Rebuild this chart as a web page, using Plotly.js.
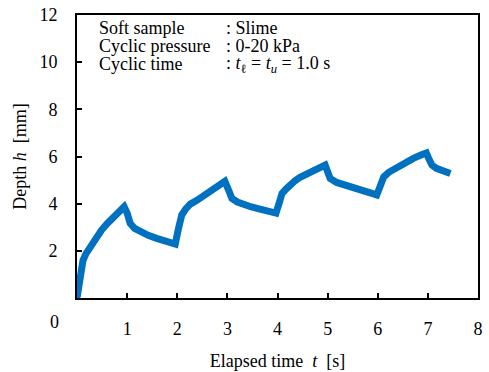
<!DOCTYPE html>
<html>
<head>
<meta charset="utf-8">
<script src="https://cdn.plot.ly/plotly-3.0.1.min.js"></script>
<style>html,body{margin:0;padding:0;background:#fff}#chart{width:489px;height:372px}</style>
</head>
<body>
<div id="chart"></div>
<script>
const timeS = [0, 0.04, 0.08, 0.12, 0.18, 0.26, 0.37, 0.49, 0.6, 0.72, 0.85, 0.94,
  1.0, 1.06, 1.15, 1.26, 1.42, 1.59, 1.78, 1.96,
  2.02, 2.09, 2.17, 2.26, 2.4, 2.55, 2.73, 2.9, 2.95,
  3.02, 3.09, 3.2, 3.32, 3.48, 3.65, 3.82, 3.97,
  4.03, 4.09, 4.17, 4.25, 4.35, 4.45, 4.6, 4.78, 4.95,
  5.0, 5.05, 5.18, 5.32, 5.48, 5.65, 5.82, 5.98,
  6.05, 6.12, 6.22, 6.38, 6.55, 6.71, 6.85, 6.97,
  7.02, 7.08, 7.17, 7.3, 7.45];
const depthMm = [0, 0.7, 1.3, 1.6, 1.88, 2.15, 2.52, 2.88, 3.15, 3.4, 3.65, 3.87,
  3.6, 3.17, 2.95, 2.81, 2.66, 2.53, 2.4, 2.29,
  2.9, 3.52, 3.78, 3.98, 4.15, 4.36, 4.62, 4.88, 4.95,
  4.6, 4.22, 4.07, 3.96, 3.86, 3.77, 3.68, 3.6,
  4.0, 4.43, 4.62, 4.8, 4.97, 5.12, 5.3, 5.48, 5.64,
  5.35, 5.07, 4.9, 4.8, 4.69, 4.58, 4.47, 4.37,
  4.75, 5.14, 5.33, 5.55, 5.75, 5.92, 6.05, 6.15,
  5.9, 5.64, 5.5, 5.38, 5.28];
const xTicks = [1, 2, 3, 4, 5, 6, 7, 8];
const yTicks = [2, 4, 6, 8, 10, 12];
const infoLabels = ["Soft sample", "Cyclic pressure", "Cyclic time"];
const infoValues = [": Slime", ": 0-20 kPa", ": <i>t</i><sub>ℓ</sub> = <i>t</i><sub><i>u</i></sub> = 1.0 s"];

const mkFont = (s) => ({family: '"Liberation Serif", "Times New Roman", Times, serif', size: s || 18, color: "#000"});
const W = 489, H = 372, L = 77, R = 11, T = 15, B = 74;
const pw = W - L - R, ph = H - T - B;
const px = x => (x - L) / pw;
const py = y => (H - B - y) / ph;

const ann = [];
const rowsY = [28, 46, 64];
infoLabels.forEach((t, i) => ann.push({xref: "paper", yref: "paper", x: px(97), y: py(rowsY[i]), xanchor: "left", yanchor: "middle", text: t, showarrow: false, font: mkFont()}));
infoValues.forEach((t, i) => ann.push({xref: "paper", yref: "paper", x: px(224), y: py(rowsY[i]), xanchor: "left", yanchor: "middle", text: t, showarrow: false, font: mkFont()}));
ann.push({xref: "paper", yref: "paper", x: px(61), y: py(322), xanchor: "right", yanchor: "middle", text: "0", showarrow: false, font: mkFont()});

const data = [{x: timeS, y: depthMm, type: "scatter", mode: "lines", line: {color: "#0070C0", width: 7, shape: "linear"}}];
const layout = {
  width: W, height: H,
  margin: {l: L, r: R, t: T, b: B, pad: 0},
  paper_bgcolor: "#fff", plot_bgcolor: "#fff",
  showlegend: false,
  font: mkFont(),
  xaxis: {range: [0, 8], tickvals: xTicks, ticktext: xTicks.map(String), ticks: "inside", ticklen: 5, tickwidth: 2, tickcolor: "#000",
    showline: true, linewidth: 2, linecolor: "#000", mirror: true, showgrid: false, zeroline: false, ticklabelstandoff: 13,
    tickfont: mkFont(),
    title: {text: "Elapsed time  <i>t</i>  [s]", font: mkFont(), standoff: 17}},
  yaxis: {range: [0, 12], tickvals: yTicks, ticktext: yTicks.map(String), ticks: "inside", ticklen: 5, tickwidth: 2, tickcolor: "#000",
    showline: true, linewidth: 2, linecolor: "#000", mirror: true, showgrid: false, zeroline: false, ticklabelstandoff: 14,
    tickfont: mkFont(),
    title: {text: "Depth <i>h</i>  [mm]", font: mkFont(), standoff: 8}},
  annotations: ann
};
Plotly.newPlot("chart", data, layout, {displayModeBar: false, staticPlot: true});
</script>
</body>
</html>
